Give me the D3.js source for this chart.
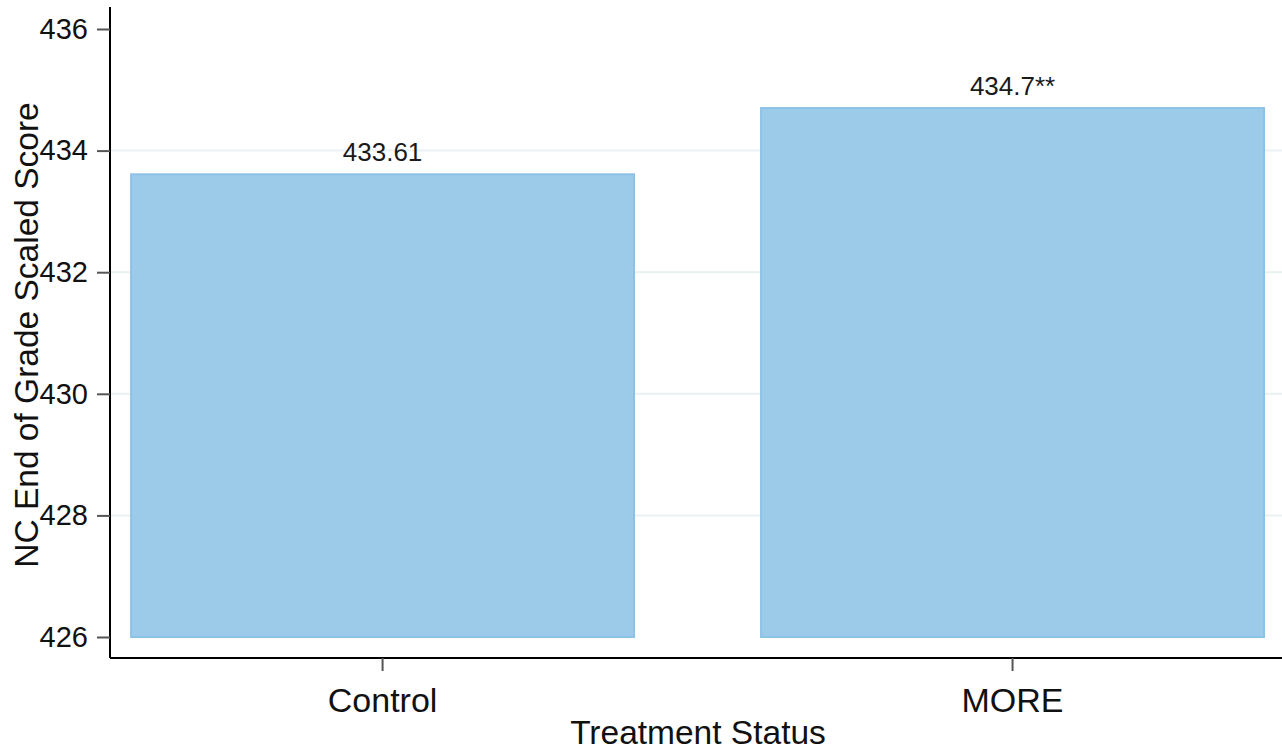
<!DOCTYPE html>
<html>
<head>
<meta charset="utf-8">
<script src="https://cdn.jsdelivr.net/npm/d3@7.9.0/dist/d3.min.js"></script>
<style>
  body { margin: 0; background: #fff; }
  svg { display: block; font-family: "Liberation Sans", Arial, sans-serif; }
</style>
</head>
<body>
<svg id="chart" width="1282" height="755"></svg>
<script>
let categories = ['Control', 'MORE'];
let scores = [433.61, 434.7];
let valueLabels = ['433.61', '434.7**'];
let yTicks = [426, 428, 430, 432, 434, 436];

let svg = d3.select('#chart');
let plotLeft = 110, plotRight = 1282, plotTop = 7, plotBottom = 658;

let x = d3.scaleBand()
  .domain(categories)
  .range([plotLeft, plotRight])
  .paddingInner(0.2016)
  .paddingOuter(0.031)
  .align(0.54);

let y = d3.scaleLinear()
  .domain([426, 436])
  .range([637, 29]);

// gridlines
svg.append('g')
  .selectAll('line')
  .data(yTicks.filter(d => d > 426 && d < 436))
  .join('line')
  .attr('x1', plotLeft)
  .attr('x2', plotRight)
  .attr('y1', d => y(d))
  .attr('y2', d => y(d))
  .attr('stroke', '#e9f1f3')
  .attr('stroke-width', 2);

// bars
let data = categories.map((c, i) => ({ cat: c, score: scores[i], label: valueLabels[i] }));

svg.append('g')
  .selectAll('rect')
  .data(data)
  .join('rect')
  .attr('x', d => x(d.cat))
  .attr('y', d => y(d.score))
  .attr('width', x.bandwidth())
  .attr('height', d => y(426) - y(d.score))
  .attr('fill', '#9ccbea')
  .attr('stroke', '#8cc2e6')
  .attr('stroke-width', 2);

svg.append('g')
  .selectAll('text')
  .data(data)
  .join('text')
  .attr('x', d => x(d.cat) + x.bandwidth() / 2)
  .attr('y', d => y(d.score) - 13)
  .attr('text-anchor', 'middle')
  .attr('font-size', 26)
  .attr('fill', '#1a1a1a')
  .text(d => d.label);

// y axis
let yAxis = svg.append('g')
  .attr('transform', `translate(${plotLeft},0)`)
  .call(d3.axisLeft(y).tickValues(yTicks).tickSize(13).tickPadding(9).tickFormat(d3.format('d')));
yAxis.select('.domain').attr('d', `M0,${plotTop}V${plotBottom}`).attr('stroke', '#000').attr('stroke-width', 2);
yAxis.selectAll('.tick line').attr('stroke', '#555').attr('stroke-width', 2);
yAxis.selectAll('.tick text').attr('font-size', 29).attr('fill', '#111').attr('font-family', null);

// x axis
let xAxis = svg.append('g')
  .attr('transform', `translate(0,${plotBottom})`)
  .call(d3.axisBottom(x).tickSize(13).tickPadding(17));
xAxis.select('.domain').attr('d', `M${plotLeft},0H${plotRight}`).attr('stroke', '#000').attr('stroke-width', 2);
xAxis.selectAll('.tick line').attr('stroke', '#555').attr('stroke-width', 2);
xAxis.selectAll('.tick text').attr('font-size', 34).attr('fill', '#111').attr('font-family', null);

// axis titles
svg.append('text')
  .attr('transform', `translate(38,335) rotate(-90)`)
  .attr('text-anchor', 'middle')
  .attr('font-size', 33.5)
  .attr('fill', '#111')
  .text('NC End of Grade Scaled Score');

svg.append('text')
  .attr('x', 698)
  .attr('y', 744)
  .attr('text-anchor', 'middle')
  .attr('font-size', 33.5)
  .attr('fill', '#111')
  .text('Treatment Status');
</script>
</body>
</html>
